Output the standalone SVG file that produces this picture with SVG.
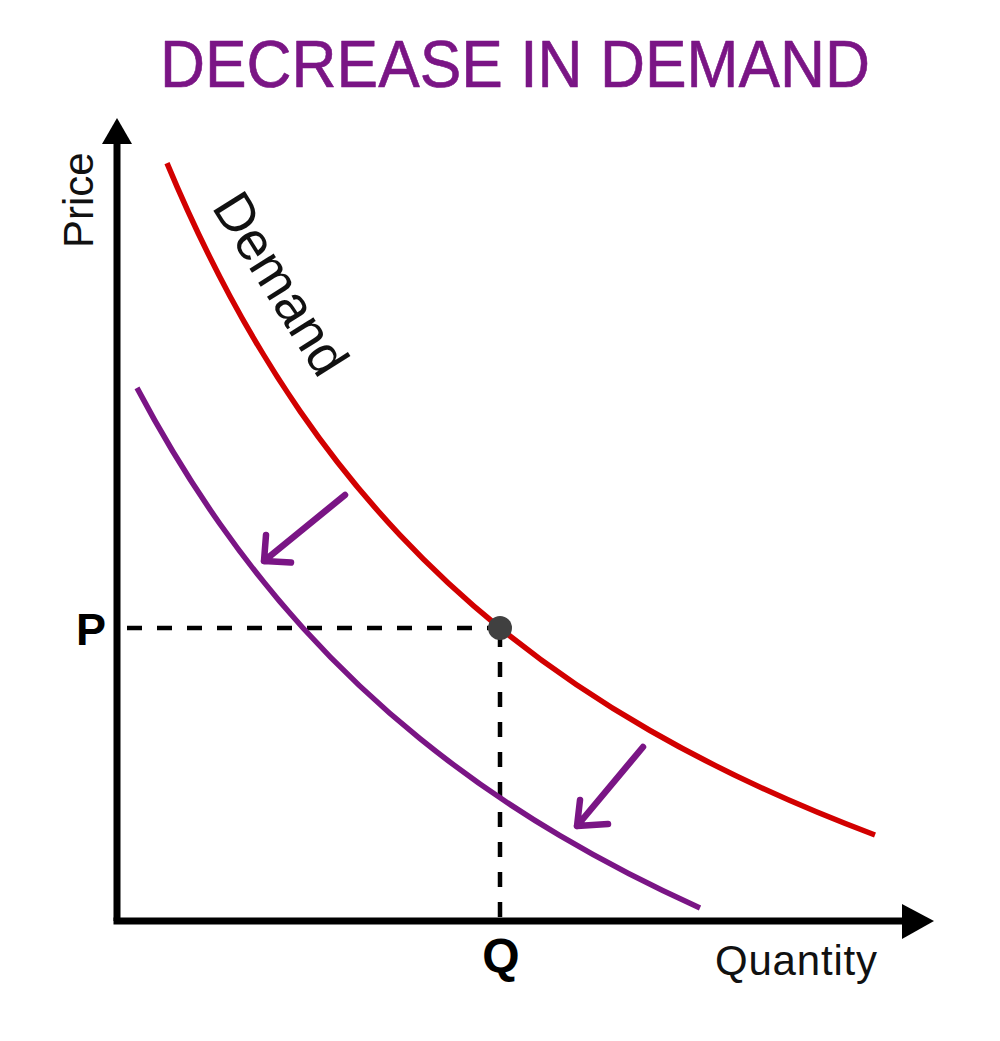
<svg xmlns="http://www.w3.org/2000/svg" width="1000" height="1041" viewBox="0 0 1000 1041">
  <style>
    .axis { stroke: #000; stroke-width: 7; fill: none; }
    .head { fill: #000; }
    .dash { stroke: #000; stroke-width: 4.5; stroke-dasharray: 15 15; fill: none; }
    .red { stroke: #d20000; stroke-width: 5.5; fill: none; stroke-linecap: butt; }
    .purple { stroke: #7a1585; stroke-width: 5.5; fill: none; }
    .shift { stroke: #7a1585; stroke-width: 6.5; fill: none; stroke-linecap: round; stroke-linejoin: round; }
    .lbl { font-family: "Liberation Sans", Arial, sans-serif; fill: #111; }
    .bold { font-weight: bold; fill: #000; }
    .title { font-family: "Liberation Sans", Arial, sans-serif; fill: #7a1585; stroke: #7a1585; stroke-width: 0.6; stroke-linejoin: round; }
  </style>
  <rect width="1000" height="1041" fill="#fff"/>

  <g id="title">
    <text class="title" x="160" y="87" font-size="66" textLength="710" lengthAdjust="spacingAndGlyphs">DECREASE IN DEMAND</text>
  </g>

  <g id="axes">
    <line class="axis" x1="117" y1="140" x2="117" y2="921"/>
    <polygon class="head" points="117,118 102,144 132,144"/>
    <line class="axis" x1="113.5" y1="921" x2="905" y2="921"/>
    <polygon class="head" points="934,921 902,904 902,939"/>
    <text class="lbl" transform="translate(93,248) rotate(-90)" font-size="42">Price</text>
    <text class="lbl" x="877" y="975" font-size="42" text-anchor="end" textLength="162">Quantity</text>
  </g>

  <g id="connectors">
    <path class="dash" d="M127,628 H500"/>
    <path class="dash" d="M500,632 V918"/>
  </g>

  <g id="demand-curve">
    <path class="red" d="M167,163.1 C188,213.5 209,257.1 230,296.2 C253.3,339.6 276.7,377.3 300,411.1 C333.3,459.4 366.7,499.7 400,535.1 C433.3,570.5 466.7,600.9 500,628 C550,668.6 600,701.75 650,730.5 C725,773.6 800,806.9 875,835"/>
    <text class="lbl" transform="translate(211,207) rotate(58)" font-size="54">Demand</text>
  </g>

  <g id="new-demand-curve">
    <path class="purple" d="M137,387.9 C164.7,440.3 192.3,484.7 220,524 C247.7,563.3 275.3,597.5 303,628 C342,671.1 381,707.1 420,738.7 C466.7,776.5 513.3,808.1 560,835.7 C606.7,863.3 653.3,887 700,908"/>
  </g>

  <g id="equilibrium">
    <circle cx="500" cy="628" r="12" fill="#404040"/>
    <text class="lbl bold" x="76" y="645" font-size="45">P</text>
    <text class="lbl bold" x="501" y="972" font-size="48" text-anchor="middle">Q</text>
  </g>

  <g id="shift-arrow-1">
    <path class="shift" d="M345,495 L264,561 M266,535 L264,561 L291,562.5"/>
  </g>
  <g id="shift-arrow-2">
    <path class="shift" d="M643,747 L577,826 M580,800 L577,826 L608,824"/>
  </g>
</svg>
